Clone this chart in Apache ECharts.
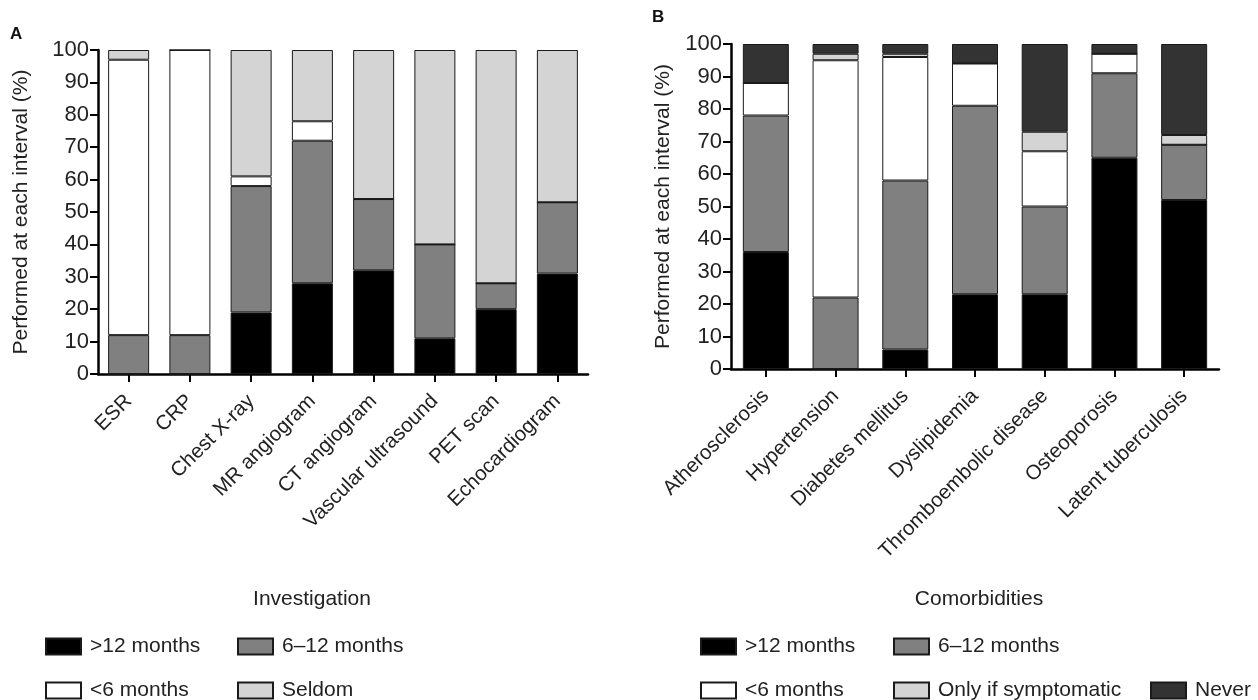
<!DOCTYPE html>
<html><head><meta charset="utf-8">
<script src="https://cdn.jsdelivr.net/npm/echarts@6/dist/echarts.min.js"></script>
<style>html,body{margin:0;padding:0;background:#fff}#c{width:1258px;height:700px}</style>
</head><body><div id="c"></div>
<script>
// ---- Panel A data ----
const investigations = ['ESR','CRP','Chest X-ray','MR angiogram','CT angiogram','Vascular ultrasound','PET scan','Echocardiogram'];
const invOver12  = [0, 0, 19, 28, 32, 11, 20, 31];
const inv6to12   = [12, 12, 39, 44, 22, 29, 8, 22];
const invUnder6  = [85, 88, 3, 6, 0, 0, 0, 0];
const invSeldom  = [3, 0, 39, 22, 46, 60, 72, 47];
// ---- Panel B data ----
const comorbidities = ['Atherosclerosis','Hypertension','Diabetes mellitus','Dyslipidemia','Thromboembolic disease','Osteoporosis','Latent tuberculosis'];
const comOver12  = [36, 0, 6, 23, 23, 65, 52];
const com6to12   = [42, 22, 52, 58, 27, 26, 17];
const comUnder6  = [10, 73, 38, 13, 17, 6, 0];
const comSymptom = [0, 2, 1, 0, 6, 0, 3];
const comNever   = [12, 3, 3, 6, 27, 3, 28];
const yTicks = [0,10,20,30,40,50,60,70,80,90,100];

const FONT = 'Liberation Sans, Arial, Helvetica, sans-serif';
const C = {over12:'#000000', m612:'#808080', under6:'#ffffff', seldom:'#d4d4d4', never:'#333333'};
const bw = {borderColor:'#1a1a1a', borderWidth:1};

function yAxis(gi, gap){
  return {type:'value', gridIndex:gi, min:0, max:100, interval:10,
    name:'Performed at each interval (%)', nameLocation:'middle', nameGap:gap,
    nameTextStyle:{fontFamily:FONT, fontSize:21, color:'#222'},
    axisLine:{show:true, lineStyle:{color:'#000', width:2.5}},
    axisTick:{show:true, length:8, lineStyle:{color:'#000', width:2}},
    axisLabel:{fontFamily:FONT, fontSize:22, color:'#222', margin:9,
      formatter:v=> yTicks.includes(v)? String(v):''},
    splitLine:{show:false}};
}
function xAxis(gi, cats){
  return {type:'category', gridIndex:gi, data:cats,
    axisLine:{show:true, lineStyle:{color:'#000', width:2.5}},
    axisTick:{show:true, alignWithLabel:true, length:8, lineStyle:{color:'#000', width:2}},
    axisLabel:{fontFamily:FONT, fontSize:20.5, color:'#222', rotate:45, margin:24, interval:0},
    splitLine:{show:false}};
}
function bar(name, data, color, xi, stack, w){
  return {name, type:'bar', stack, xAxisIndex:xi, yAxisIndex:xi, data, barWidth:w,
    itemStyle:Object.assign({color}, bw), emphasis:{disabled:true}};
}
function legendItem(name, left, top){
  return {data:[name], left, top, padding:0, itemWidth:35, itemHeight:16, itemGap:0, icon:'rect', selectedMode:false,
    textStyle:{fontFamily:FONT, fontSize:21, color:'#222', padding:[0,0,0,4]}};
}

const option = {
  animation:false,
  backgroundColor:'#fff',
  grid:[
    {left:98, top:50, width:490, height:324},
    {left:731, top:44, width:488, height:325}
  ],
  xAxis:[xAxis(0, investigations), xAxis(1, comorbidities)],
  yAxis:[yAxis(0, 66), yAxis(1, 57)],
  series:[
    bar('>12 months', invOver12, C.over12, 0, 'A', 41),
    bar('6–12 months', inv6to12, C.m612, 0, 'A', 41),
    bar('<6 months', invUnder6, C.under6, 0, 'A', 41),
    bar('Seldom', invSeldom, C.seldom, 0, 'A', 41),
    bar('>12 months', comOver12, C.over12, 1, 'B', 46),
    bar('6–12 months', com6to12, C.m612, 1, 'B', 46),
    bar('<6 months', comUnder6, C.under6, 1, 'B', 46),
    bar('Only if symptomatic', comSymptom, C.seldom, 1, 'B', 46),
    bar('Never', comNever, C.never, 1, 'B', 46)
  ],
  legend:[
    legendItem('>12 months', 45, 636),
    legendItem('6–12 months', 237, 636),
    legendItem('<6 months', 45, 680),
    legendItem('Seldom', 237, 680),
    legendItem('>12 months', 700, 636),
    legendItem('6–12 months', 893, 636),
    legendItem('<6 months', 700, 680),
    legendItem('Only if symptomatic', 893, 680),
    legendItem('Never', 1150, 680)
  ],
  graphic:[
    {type:'text', left:10, top:26, style:{text:'A', font:'bold 17px '+FONT, fill:'#111'}},
    {type:'text', left:652, top:9, style:{text:'B', font:'bold 17px '+FONT, fill:'#111'}},
    {type:'text', x:312, y:599, style:{text:'Investigation', font:'21px '+FONT, fill:'#222', textAlign:'center', textVerticalAlign:'middle'}},
    {type:'text', x:979, y:599, style:{text:'Comorbidities', font:'21px '+FONT, fill:'#222', textAlign:'center', textVerticalAlign:'middle'}}
  ]
};
const chart = echarts.init(document.getElementById('c'));
chart.setOption(option);
</script></body></html>
